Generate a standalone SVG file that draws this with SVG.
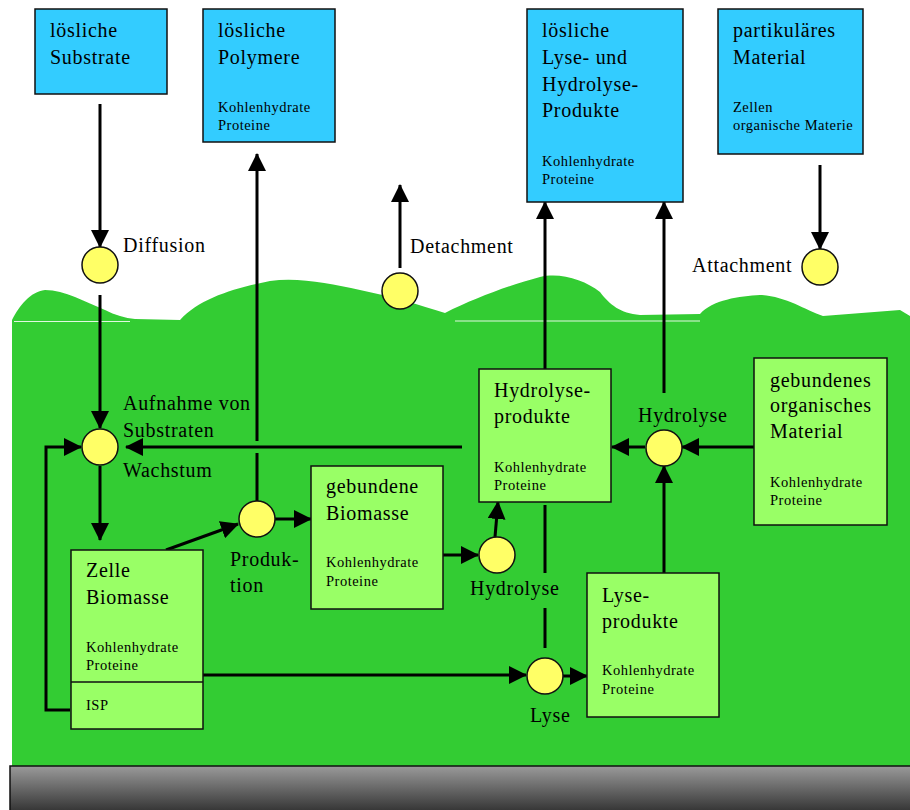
<svg xmlns="http://www.w3.org/2000/svg" width="910" height="810" viewBox="0 0 910 810">
<defs>
<linearGradient id="gray" x1="0" y1="0" x2="0" y2="1">
<stop offset="0" stop-color="#9a9a9a"/>
<stop offset="1" stop-color="#333333"/>
</linearGradient>
<marker id="ah" viewBox="0 0 18 18" refX="17" refY="9" markerWidth="18" markerHeight="18" markerUnits="userSpaceOnUse" orient="auto">
<path d="M0,0 L18,9 L0,18 z" fill="#000"/>
</marker>
<style>
text{font-family:"Liberation Serif","Times New Roman",serif;fill:#000;}
.big{font-size:20px;letter-spacing:0.7px;}
.sm{font-size:14.5px;letter-spacing:0.5px;}
.blue{fill:#33ccff;stroke:#111;stroke-width:1.5;}
.lg{fill:#99ff66;stroke:#111;stroke-width:1.5;}
.circ{fill:#ffff66;stroke:#111;stroke-width:1.5;}
.c{stroke:#000;stroke-width:3;fill:none;}
.a{marker-end:url(#ah);}
</style>
</defs>

<rect width="910" height="810" fill="#ffffff"/>

<g id="biofilm">
<path d="M12,320 C20,305 30,292 45,290 C65,290 85,302 105,310 C115,315 125,318 135,319 L180,320 C200,298 235,288 270,281 C300,277 330,284 360,290 C390,296 420,305 445,313 C475,298 510,285 540,277 C560,272 585,280 600,292 C610,305 620,313 640,315 L700,314 C712,300 740,296 760,295 C785,296 805,310 823,316 L900,310 L910,316 L910,766 L12,766 Z" fill="#33cc33"/>
<line x1="14" y1="321.5" x2="130" y2="321.5" stroke="#ffffff" stroke-width="1" opacity="0.85"/>
<line x1="455" y1="321" x2="700" y2="321" stroke="#ffffff" stroke-width="1" opacity="0.85"/>
</g>

<g id="substratum">
<rect x="10" y="766" width="902" height="46" fill="url(#gray)" stroke="#111" stroke-width="1.5"/>
</g>

<g id="connectors">
<line class="c a" x1="100" y1="104" x2="100" y2="247"/>
<line class="c a" x1="100" y1="295" x2="100" y2="428"/>
<line class="c a" x1="100" y1="466" x2="100" y2="540"/>
<polyline class="c a" points="70,710 46,710 46,447 81,447"/>
<line class="c a" x1="462" y1="447" x2="126" y2="447"/>
<line class="c a" x1="257" y1="441" x2="257" y2="154"/>
<line class="c" x1="257" y1="453" x2="257" y2="501"/>
<line class="c a" x1="166" y1="550" x2="238" y2="524"/>
<line class="c a" x1="275" y1="519" x2="311" y2="519"/>
<line class="c a" x1="443" y1="555" x2="478" y2="555"/>
<line class="c a" x1="495" y1="537" x2="498" y2="502"/>
<line class="c a" x1="545" y1="369" x2="545" y2="202"/>
<line class="c" x1="545" y1="505" x2="545" y2="573"/>
<line class="c" x1="545" y1="608" x2="545" y2="648"/>
<line class="c a" x1="664" y1="573" x2="664" y2="466"/>
<line class="c a" x1="664" y1="393" x2="664" y2="202"/>
<line class="c a" x1="754" y1="447" x2="682" y2="447"/>
<line class="c a" x1="645" y1="447" x2="612" y2="447"/>
<line class="c a" x1="203" y1="675" x2="526" y2="675"/>
<line class="c a" x1="563" y1="676" x2="587" y2="676"/>
<line class="c a" x1="820" y1="165" x2="820" y2="249"/>
<line class="c a" x1="400" y1="268" x2="400" y2="185"/>
</g>

<g id="loesliche-substrate">
<rect class="blue" x="35" y="9" width="132" height="85"/>
<text class="big" x="50" y="37">lösliche</text>
<text class="big" x="50" y="64">Substrate</text>
</g>

<g id="loesliche-polymere">
<rect class="blue" x="203" y="9" width="132" height="133"/>
<text class="big" x="218" y="37">lösliche</text>
<text class="big" x="218" y="64">Polymere</text>
<text class="sm" x="218" y="112">Kohlenhydrate</text>
<text class="sm" x="218" y="130">Proteine</text>
</g>

<g id="loesliche-produkte">
<rect class="blue" x="527" y="9" width="156" height="193"/>
<text class="big" x="542" y="37">lösliche</text>
<text class="big" x="542" y="64">Lyse- und</text>
<text class="big" x="542" y="91">Hydrolyse-</text>
<text class="big" x="542" y="117">Produkte</text>
<text class="sm" x="542" y="166">Kohlenhydrate</text>
<text class="sm" x="542" y="184">Proteine</text>
</g>

<g id="partikulaeres-material">
<rect class="blue" x="718" y="9" width="145" height="145"/>
<text class="big" x="733" y="37">partikuläres</text>
<text class="big" x="733" y="64">Material</text>
<text class="sm" x="733" y="112">Zellen</text>
<text class="sm" x="733" y="130">organische Materie</text>
</g>

<g id="diffusion">
<circle class="circ" cx="100" cy="265" r="18"/>
<text class="big" x="123" y="252">Diffusion</text>
</g>

<g id="detachment">
<circle class="circ" cx="400" cy="291" r="18"/>
<text class="big" x="410" y="253">Detachment</text>
</g>

<g id="attachment">
<circle class="circ" cx="820" cy="267" r="18"/>
<text class="big" x="692" y="272">Attachment</text>
</g>

<g id="aufnahme">
<circle class="circ" cx="100" cy="447" r="18"/>
<text class="big" x="123" y="410">Aufnahme von</text>
<text class="big" x="123" y="437">Substraten</text>
<text class="big" x="123" y="477">Wachstum</text>
</g>

<g id="produktion">
<circle class="circ" cx="257" cy="519" r="18"/>
<text class="big" x="230" y="566">Produk-</text>
<text class="big" x="230" y="592">tion</text>
</g>

<g id="hydrolyse-mitte">
<circle class="circ" cx="497" cy="555" r="18"/>
<text class="big" x="470" y="595">Hydrolyse</text>
</g>

<g id="lyse">
<circle class="circ" cx="545" cy="676" r="18"/>
<text class="big" x="530" y="722">Lyse</text>
</g>

<g id="hydrolyse-rechts">
<circle class="circ" cx="664" cy="448" r="18"/>
<text class="big" x="638" y="422">Hydrolyse</text>
</g>

<g id="zelle-biomasse">
<rect class="lg" x="71" y="550" width="132" height="179"/>
<line x1="71" y1="682" x2="203" y2="682" stroke="#111" stroke-width="1.5"/>
<text class="big" x="86" y="577">Zelle</text>
<text class="big" x="86" y="604">Biomasse</text>
<text class="sm" x="86" y="652">Kohlenhydrate</text>
<text class="sm" x="86" y="670">Proteine</text>
<text class="sm" x="86" y="710">ISP</text>
</g>

<g id="gebundene-biomasse">
<rect class="lg" x="311" y="466" width="132" height="143"/>
<text class="big" x="326" y="493">gebundene</text>
<text class="big" x="326" y="520">Biomasse</text>
<text class="sm" x="326" y="567">Kohlenhydrate</text>
<text class="sm" x="326" y="586">Proteine</text>
</g>

<g id="hydrolyseprodukte">
<rect class="lg" x="479" y="369" width="132" height="133"/>
<text class="big" x="494" y="397">Hydrolyse-</text>
<text class="big" x="494" y="423">produkte</text>
<text class="sm" x="494" y="472">Kohlenhydrate</text>
<text class="sm" x="494" y="490">Proteine</text>
</g>

<g id="gebundenes-material">
<rect class="lg" x="754" y="358" width="133" height="167"/>
<text class="big" x="770" y="387">gebundenes</text>
<text class="big" x="770" y="412">organisches</text>
<text class="big" x="770" y="438">Material</text>
<text class="sm" x="770" y="487">Kohlenhydrate</text>
<text class="sm" x="770" y="505">Proteine</text>
</g>

<g id="lyseprodukte">
<rect class="lg" x="587" y="573" width="132" height="144"/>
<text class="big" x="602" y="602">Lyse-</text>
<text class="big" x="602" y="628">produkte</text>
<text class="sm" x="602" y="675">Kohlenhydrate</text>
<text class="sm" x="602" y="694">Proteine</text>
</g>
</svg>
